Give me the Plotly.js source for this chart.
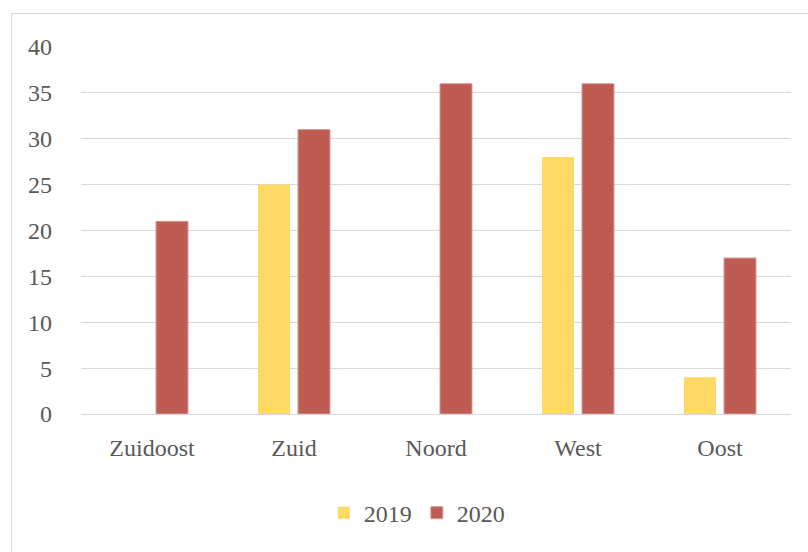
<!DOCTYPE html>
<html>
<head>
<meta charset="utf-8">
<script src="https://cdn.plot.ly/plotly-3.0.1.min.js"></script>
<style>
  html, body { margin: 0; padding: 0; background: #ffffff; }
  #frame { position: absolute; left: 11px; top: 13px; width: 900px; height: 700px; border: 1px solid #d9d9d9; box-sizing: border-box; }
  #chart { position: absolute; left: 0; top: 0; width: 808px; height: 552px; }
</style>
</head>
<body>
<div id="frame"></div>
<div id="chart"></div>
<script>
const categories = ["Zuidoost", "Zuid", "Noord", "West", "Oost"];
const seriesNames = ["2019", "2020"];
const values2019 = [0, 25, 0, 28, 4];
const values2020 = [21, 31, 36, 36, 17];
const yTicks = [0, 5, 10, 15, 20, 25, 30, 35, 40];

const fontFamily = "Liberation Serif";
const textColor = "#595959";

const traces = [
  { type: "bar", name: seriesNames[0], x: categories, y: values2019, marker: { color: "#ffd966" } },
  { type: "bar", name: seriesNames[1], x: categories, y: values2020, marker: { color: "#be5c54", line: { color: "#d49a94", width: 1 } } }
];

const layout = {
  width: 808, height: 552,
  paper_bgcolor: "rgba(0,0,0,0)",
  plot_bgcolor: "rgba(0,0,0,0)",
  margin: { l: 81, r: 17, t: 47, b: 138 },
  barmode: "group",
  bargap: 0.437,
  bargroupgap: 0.2,
  font: { family: fontFamily, size: 24, color: textColor },
  xaxis: {
    type: "category",
    showgrid: false,
    showline: true, linecolor: "#d9d9d9", linewidth: 1,
    ticks: "",
    ticklabelstandoff: 12,
    tickfont: { family: fontFamily, size: 24, color: textColor }
  },
  yaxis: {
    range: [0, 40],
    tickvals: yTicks,
    ticktext: yTicks.map(String),
    showgrid: true, gridcolor: "#d9d9d9", gridwidth: 1,
    zeroline: true, zerolinecolor: "#d9d9d9", zerolinewidth: 1,
    showline: false,
    ticks: "",
    ticklabelstandoff: 28,
    tickfont: { family: fontFamily, size: 24, color: textColor }
  },
  showlegend: true,
  legend: {
    orientation: "h",
    x: 0.473, xanchor: "center",
    y: -0.27, yanchor: "middle",
    font: { family: fontFamily, size: 24, color: textColor },
    itemwidth: 30
  }
};

Plotly.newPlot("chart", traces, layout, { displayModeBar: false, staticPlot: true });
</script>
</body>
</html>
